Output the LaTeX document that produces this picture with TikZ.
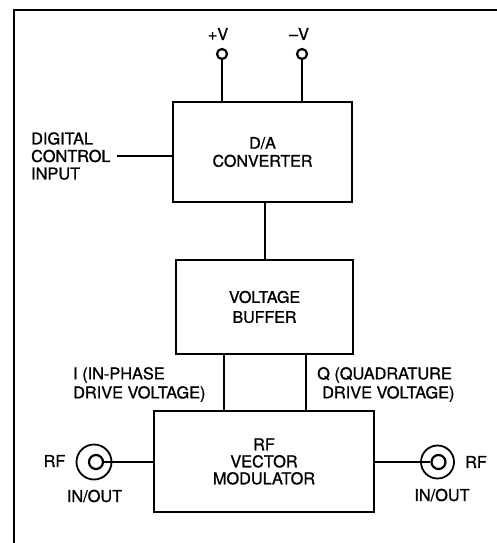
\documentclass[tikz,border=0pt]{standalone}
\usepackage{fontspec}
\setmainfont{TeX Gyre Heros}[FakeBold=1.1]
\begin{document}
\begin{tikzpicture}[x=1pt,y=-1pt,
  blk/.style={draw, line width=2pt, inner sep=0pt, align=center},
  wire/.style={line width=1.4pt},
  lbl/.style={inner sep=0pt, font=\fontsize{16.3}{19}\selectfont},
  term/.style={draw, circle, line width=1.8pt, inner sep=0pt}]
\useasboundingbox (0,0) rectangle (497,543);
% frame
\draw[line width=2.6pt] (497,10) -- (14,10) -- (14,543);
% blocks
\node[blk, minimum width=179pt, minimum height=100pt, font=\fontsize{16}{18}\selectfont] (da) at (262.5,152) {D/A\\CONVERTER};
\node[blk, minimum width=177pt, minimum height=94pt, font=\fontsize{16}{20}\selectfont] (vb) at (264.5,307) {VOLTAGE\\BUFFER};
\node[blk, minimum width=220pt, minimum height=101pt, font=\fontsize{16.3}{17}\selectfont] (vm) at (264,461.5) {RF\\VECTOR\\MODULATOR};
% supply terminals
\node[term, line width=2.2pt, minimum size=10pt] (vp) at (222,54) {};
\node[term, line width=2.2pt, minimum size=10pt] (vn) at (302,54) {};
\node[lbl] (vpl) at (218,34) {+V};
\node[lbl] (vnl) at (299,34) {\symbol{"2013}V};
\draw[wire] (vp.south) -- (vp.south |- da.north);
\draw[wire] (vn.south) -- (vn.south |- da.north);
% digital input
\node[lbl, align=left, anchor=west, font=\fontsize{16.3}{17.5}\selectfont] (dci) at (31,156) {DIGITAL\\CONTROL\\INPUT};
\coordinate (dcie) at (117,156);
\draw[wire] (dcie) -- (dcie -| da.west);
% D/A to buffer
\coordinate (mid) at (265,230);
\draw[wire] (mid |- da.south) -- (mid |- vb.north);
% I and Q
\coordinate (iq) at (224,354);
\coordinate (qq) at (306,354);
\draw[wire] (iq |- vb.south) -- (iq |- vm.north);
\draw[wire] (qq |- vb.south) -- (qq |- vm.north);
\node[lbl, align=left, anchor=west] (il) at (73,384.5) {I (IN-PHASE\\DRIVE VOLTAGE)};
\node[lbl, align=left, anchor=west] (ql) at (317,384.5) {Q (QUADRATURE\\\hspace{5pt}DRIVE VOLTAGE)};
% RF connectors
\node[term, minimum size=35pt] (rlo) at (94,462) {};
\node[term, line width=2.2pt, minimum size=14pt] (rli) at (96,462) {};
\node[term, minimum size=33pt] (rro) at (437.5,462) {};
\node[term, line width=2.2pt, minimum size=14pt] (rri) at (438.5,462) {};
\draw[wire] (rli.east) -- (vm.west |- rli.east);
\draw[wire] (vm.east |- rri.west) -- (rri.west);
\node[lbl] (rfl) at (54.5,461) {RF};
\node[lbl] (iol) at (94.5,496) {IN/OUT};
\node[lbl] (rfr) at (476,462) {RF};
\node[lbl] (ior) at (442,495) {IN/OUT};
\end{tikzpicture}
\end{document}
